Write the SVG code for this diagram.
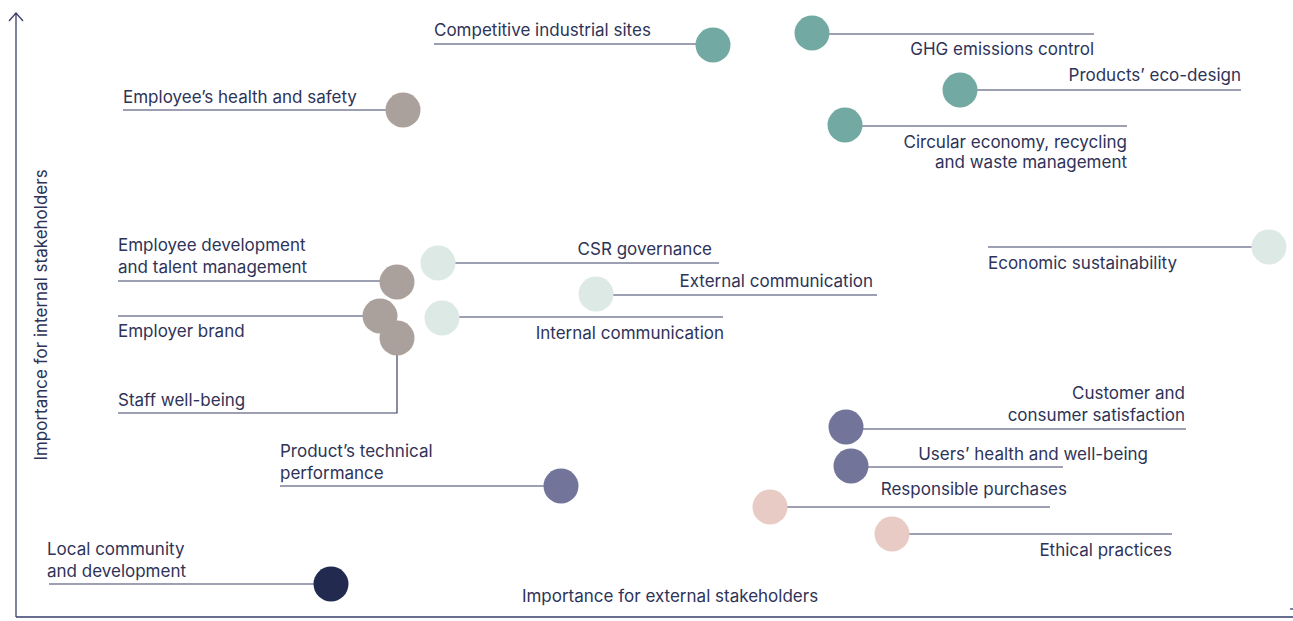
<svg xmlns="http://www.w3.org/2000/svg" width="1293" height="621" viewBox="0 0 1293 621">
<style>
text{font-family:Inter,"Noto Sans","Liberation Sans",sans-serif;font-size:17px;fill:#2e3358}
.r{text-anchor:end}
.ln{stroke:#3d4268;stroke-width:1.2;fill:none}
.ax{stroke:#3a3f6a;stroke-width:1.3;fill:none}
.teal{fill:#72aaa3}.taupe{fill:#aba19c}.light{fill:#dde9e5}.slate{fill:#727599}.pink{fill:#e8cbc4}.navy{fill:#232a50}
</style>
<rect width="1293" height="621" fill="#fff"/>
<g id="axes">
<path class="ax" d="M16 617V13M9 21L16 13L23 21M16 617H1293"/>
<path class="ax" d="M1290 609h3"/>
<text x="670" y="602" text-anchor="middle">Importance for external stakeholders</text>
<text transform="translate(47 315) rotate(-90)" text-anchor="middle">Importance for internal stakeholders</text>
</g>
<g id="connectors">
<path class="ln" d="M434 44H697"/>
<path class="ln" d="M829 34H1094"/>
<path class="ln" d="M977 90H1241"/>
<path class="ln" d="M862 126H1127"/>
<path class="ln" d="M123 110H386"/>
<path class="ln" d="M118 281H380"/>
<path class="ln" d="M455 263H719"/>
<path class="ln" d="M613 295H877"/>
<path class="ln" d="M459 317H723"/>
<path class="ln" d="M118 316H363"/>
<path class="ln" d="M397 355V413H118"/>
<path class="ln" d="M988 247H1252"/>
<path class="ln" d="M863 429H1186"/>
<path class="ln" d="M868 467H1063"/>
<path class="ln" d="M787 507H1050"/>
<path class="ln" d="M909 534H1172"/>
<path class="ln" d="M280 486H544"/>
<path class="ln" d="M49 584H314"/>
</g>
<g id="competitive-industrial-sites"><circle class="teal" cx="713" cy="45" r="17.5"/><text x="434" y="36">Competitive industrial sites</text></g>
<g id="ghg-emissions-control"><circle class="teal" cx="812" cy="33" r="17.5"/><text class="r" x="1094" y="55">GHG emissions control</text></g>
<g id="products-eco-design"><circle class="teal" cx="960" cy="90" r="17.5"/><text class="r" x="1241" y="81">Products’ eco-design</text></g>
<g id="circular-economy"><circle class="teal" cx="845" cy="125" r="17.5"/><text class="r" x="1127" y="148">Circular economy, recycling</text><text class="r" x="1127" y="168">and waste management</text></g>
<g id="employee-health-safety"><circle class="taupe" cx="403" cy="110" r="17.5"/><text x="123" y="103">Employee’s health and safety</text></g>
<g id="employee-development"><circle class="taupe" cx="397" cy="282" r="17.5"/><text x="118" y="251">Employee development</text><text x="118" y="273">and talent management</text></g>
<g id="csr-governance"><circle class="light" cx="438" cy="263" r="17.5"/><text class="r" x="712" y="255">CSR governance</text></g>
<g id="external-communication"><circle class="light" cx="596" cy="294" r="17.5"/><text class="r" x="873" y="287">External communication</text></g>
<g id="internal-communication"><circle class="light" cx="442" cy="318" r="17.5"/><text class="r" x="724" y="339">Internal communication</text></g>
<g id="employer-brand"><circle class="taupe" cx="380" cy="316" r="17.5"/><text x="118" y="337">Employer brand</text></g>
<g id="staff-well-being"><circle class="taupe" cx="397" cy="338" r="17.5"/><text x="118" y="406">Staff well-being</text></g>
<g id="economic-sustainability"><circle class="light" cx="1269" cy="247" r="17.5"/><text x="988" y="269">Economic sustainability</text></g>
<g id="customer-satisfaction"><circle class="slate" cx="846" cy="427" r="17.5"/><text class="r" x="1185" y="399">Customer and</text><text class="r" x="1185" y="421">consumer satisfaction</text></g>
<g id="users-health"><circle class="slate" cx="851" cy="466" r="17.5"/><text class="r" x="1148" y="460">Users’ health and well-being</text></g>
<g id="responsible-purchases"><circle class="pink" cx="770" cy="507" r="17.5"/><text class="r" x="1067" y="495">Responsible purchases</text></g>
<g id="ethical-practices"><circle class="pink" cx="892" cy="534" r="17.5"/><text class="r" x="1172" y="556">Ethical practices</text></g>
<g id="product-technical-performance"><circle class="slate" cx="561" cy="486" r="17.5"/><text x="280" y="457">Product’s technical</text><text x="280" y="479">performance</text></g>
<g id="local-community"><circle class="navy" cx="331" cy="584" r="17.5"/><text x="47" y="555">Local community</text><text x="47" y="577">and development</text></g>
</svg>
